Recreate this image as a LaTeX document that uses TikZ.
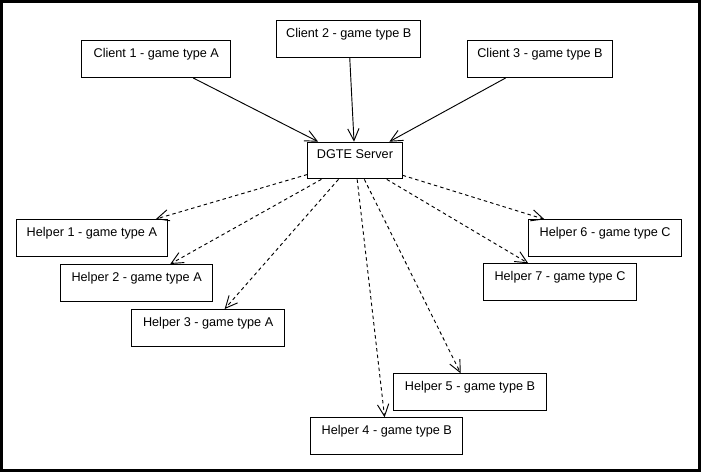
\documentclass[tikz,border=0pt]{standalone}
\usepackage{fontspec}
\setmainfont{Liberation Sans}
\usetikzlibrary{arrows.meta}
\begin{document}
\begin{tikzpicture}[x=0.75pt,y=-0.75pt,
  box/.style={draw, line width=0.75pt, inner xsep=0pt, inner ysep=0pt,
    text height=12.5pt, text depth=15pt, anchor=north west,
    font=\fontsize{9.5}{11}\selectfont},
  bw/.style={minimum width=#1*0.75pt},
  solidarrow/.style={line width=0.7pt, -{Straight Barb[length=9pt,width=8.5pt]}},
  dasharrow/.style={line width=0.7pt, dash pattern=on 2.6pt off 2.3pt, -{Straight Barb[length=9pt,width=8.5pt]}}
]
\useasboundingbox (0,0) rectangle (701,472);
\draw[line width=2.25pt] (1.5,1.5) rectangle (699.5,470.5);

\node[box,bw=149] (c1) at (81.3,40.3) {Client 1 - game type A};
\node[box,bw=144] (c2) at (276.3,20.3) {Client 2 - game type B};
\node[box,bw=145] (c3) at (467,40.3) {Client 3 - game type B};
\node[box,bw=94.4] (srv) at (307.3,141.7) {DGTE Server};
\node[box,bw=151.3] (h1) at (15.7,219) {Helper 1 - game type A};
\node[box,bw=152.3] (h2) at (60,264) {Helper 2 - game type A};
\node[box,bw=153.3] (h3) at (131,309) {Helper 3 - game type A};
\node[box,bw=152] (h4) at (310.3,417.3) {Helper 4 - game type B};
\node[box,bw=152.4] (h5) at (393.3,373.3) {Helper 5 - game type B};
\node[box,bw=152.7] (h6) at (528.3,219.3) {Helper 6 - game type C};
\node[box,bw=153] (h7) at (483,263.3) {Helper 7 - game type C};

\draw[solidarrow] (c1) -- (srv);
\draw[solidarrow] (c2) -- (srv);
\draw[solidarrow] (c3) -- (srv);

\draw[dasharrow] (srv) -- (h1);
\draw[dasharrow] (srv) -- (h2);
\draw[dasharrow] (srv) -- (h3);
\draw[dasharrow] (srv) -- (h4);
\draw[dasharrow] (srv) -- (h5);
\draw[dasharrow] (srv) -- (h6);
\draw[dasharrow] (srv) -- (h7);
\end{tikzpicture}
\end{document}
